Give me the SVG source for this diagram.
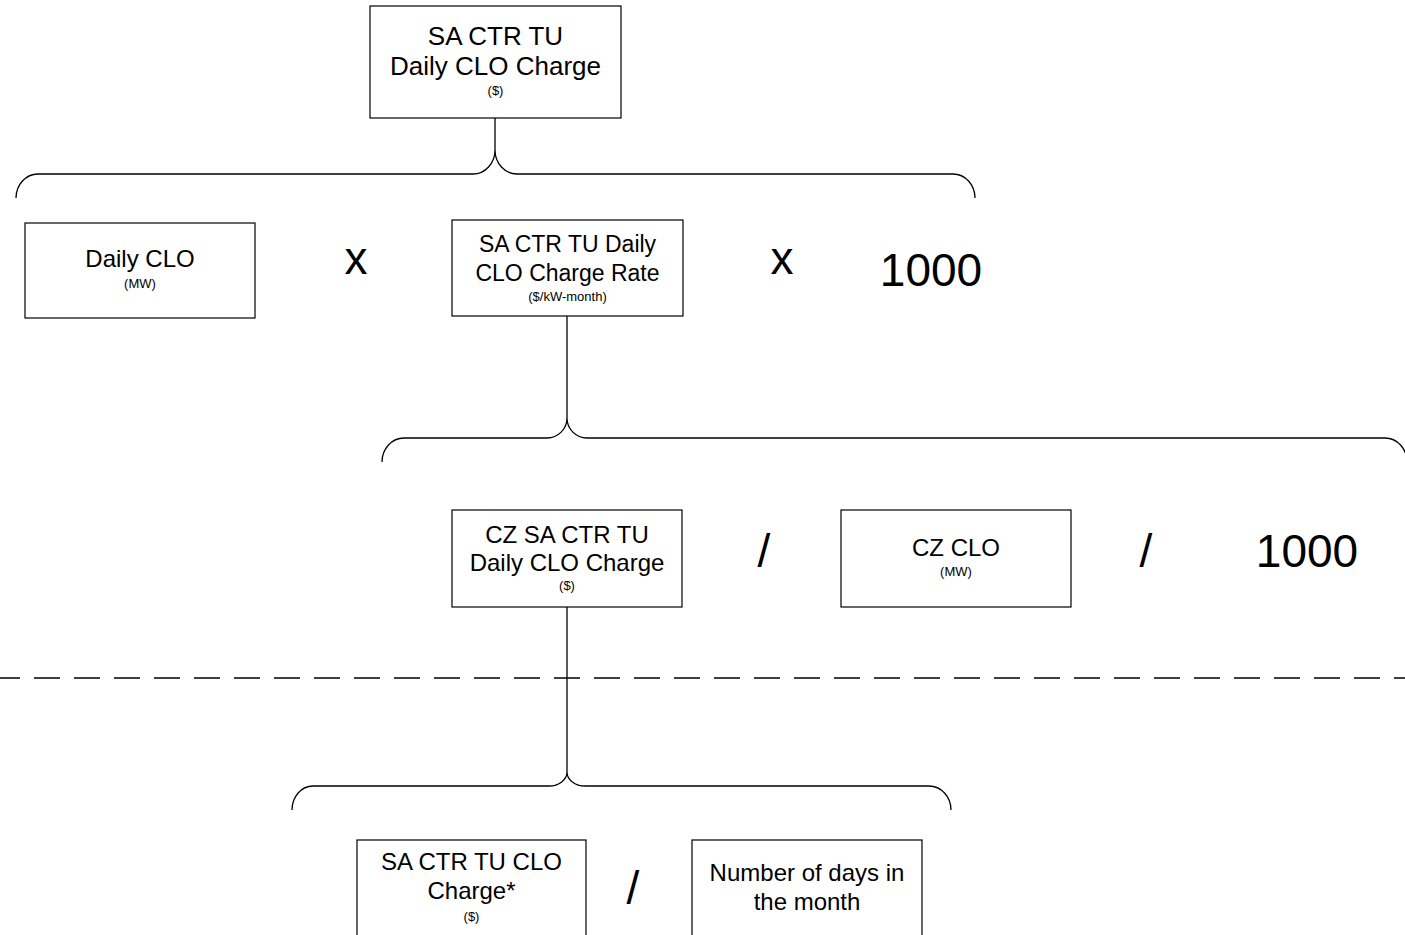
<svg xmlns="http://www.w3.org/2000/svg" width="1405" height="935" viewBox="0 0 1405 935">
<style>
.box{fill:#fff;stroke:#000;stroke-width:1.2}
.t{font-family:"Liberation Sans",Arial,sans-serif;fill:#000;text-anchor:middle}
.m{font-size:24px}
.s{font-size:13px}
.op{font-size:46px}
.ln{fill:none;stroke:#000;stroke-width:1.3}
.dash{fill:none;stroke:#000;stroke-width:1.5;stroke-dasharray:26 14}
</style>
<rect width="1405" height="935" fill="#fff"/>
<g id="connectors">
<path class="ln" d="M495 118 V150"/>
<path class="ln" d="M16 198 A22 24 0 0 1 38 174 H473 A22 24 0 0 0 495 150 A22 24 0 0 0 517 174 H953 A22 24 0 0 1 975 198"/>
<path class="ln" d="M567 316 V418"/>
<path class="ln" d="M382 462 A22 24 0 0 1 404 438 H547 A20 20 0 0 0 567 418 A20 20 0 0 0 587 438 H1385 A22 24 0 0 1 1407 462"/>
<path class="ln" d="M567 607 V772"/>
<path class="ln" d="M292 810 A21 24 0 0 1 313 786 H549 A18 14 0 0 0 567 772 A18 14 0 0 0 585 786 H929 A22 24 0 0 1 951 810"/>
<path class="dash" d="M-6 678 H1405"/>
</g>
<g id="n-top">
<rect class="box" x="370" y="6" width="251" height="112"/>
<text class="t" x="495.5" y="45" font-size="26">SA CTR TU</text>
<text class="t" x="495.5" y="75" font-size="26">Daily CLO Charge</text>
<text class="t s" x="495.5" y="95">($)</text>
</g>
<g id="n-dailyclo">
<rect class="box" x="25" y="223" width="230" height="95"/>
<text class="t m" x="140" y="267">Daily CLO</text>
<text class="t s" x="140" y="288">(MW)</text>
</g>
<g id="op-x1"><text class="t op" x="356" y="274">x</text></g>
<g id="n-rate">
<rect class="box" x="452" y="220" width="231" height="96"/>
<text class="t" x="567.5" y="252" font-size="23">SA CTR TU Daily</text>
<text class="t" x="567.5" y="281" font-size="23">CLO Charge Rate</text>
<text class="t s" x="567.5" y="301">($/kW-month)</text>
</g>
<g id="op-x2"><text class="t op" x="782" y="274">x</text></g>
<g id="c-1000a"><text class="t op" x="931" y="286">1000</text></g>
<g id="n-czcharge">
<rect class="box" x="452" y="510" width="230" height="97"/>
<text class="t m" x="567" y="543">CZ SA CTR TU</text>
<text class="t m" x="567" y="571">Daily CLO Charge</text>
<text class="t s" x="567" y="590">($)</text>
</g>
<g id="op-d1"><text class="t op" x="764" y="567">/</text></g>
<g id="n-czclo">
<rect class="box" x="841" y="510" width="230" height="97"/>
<text class="t m" x="956" y="556">CZ CLO</text>
<text class="t s" x="956" y="576">(MW)</text>
</g>
<g id="op-d2"><text class="t op" x="1146" y="567">/</text></g>
<g id="c-1000b"><text class="t op" x="1307" y="567">1000</text></g>
<g id="n-clocharge">
<rect class="box" x="357" y="840" width="229" height="110"/>
<text class="t m" x="471.5" y="870">SA CTR TU CLO</text>
<text class="t m" x="471.5" y="899">Charge*</text>
<text class="t s" x="471.5" y="921">($)</text>
</g>
<g id="op-d3"><text class="t op" x="633" y="904">/</text></g>
<g id="n-days">
<rect class="box" x="692" y="840" width="230" height="110"/>
<text class="t m" x="807" y="881">Number of days in</text>
<text class="t m" x="807" y="910">the month</text>
</g>
</svg>
